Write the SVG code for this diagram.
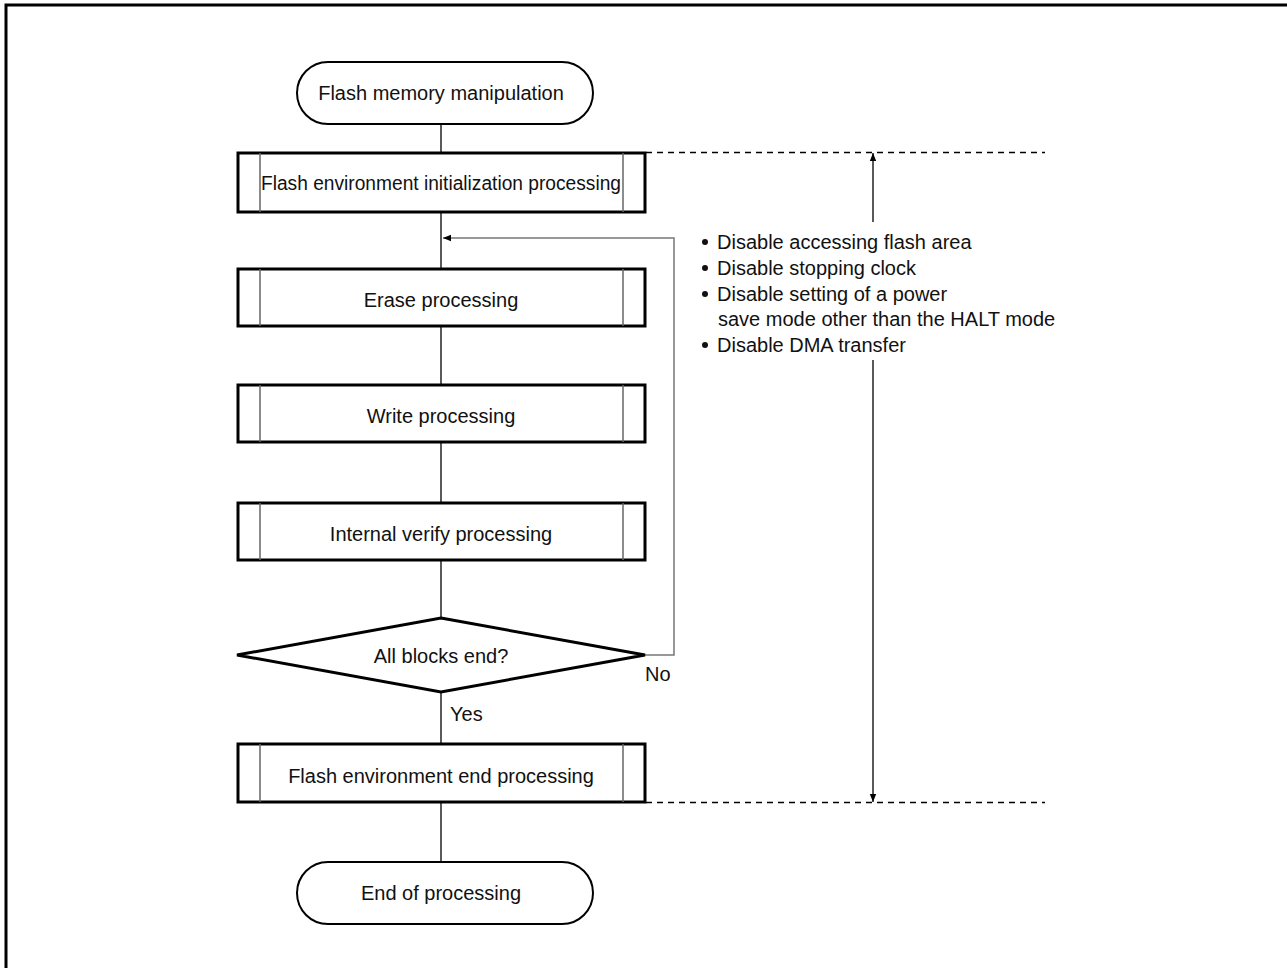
<svg xmlns="http://www.w3.org/2000/svg" width="1287" height="968" viewBox="0 0 1287 968">
<defs>
<style>
.t{font-family:"Liberation Sans",Arial,Helvetica,sans-serif;font-size:20px;fill:#111;}
.c{text-anchor:middle;}
.box{fill:#fff;stroke:#000;stroke-width:3;}
.inner{stroke:#666;stroke-width:1.5;fill:none;}
.term{fill:#fff;stroke:#000;stroke-width:2;}
.ln{stroke:#000;stroke-width:1.3;fill:none;}
.loop{stroke:#777;stroke-width:1.5;fill:none;}
.dash{stroke:#000;stroke-width:1.3;stroke-dasharray:6,5;fill:none;}
</style>
<marker id="ah" viewBox="0 0 10 10" refX="10" refY="5" markerWidth="13" markerHeight="8" markerUnits="userSpaceOnUse" orient="auto">
<path d="M0,1 L10,5 L0,9 z" fill="#000"/>
</marker>
</defs>
<rect width="1287" height="968" fill="#fff"/>
<path d="M6,968 V5 H1287" fill="none" stroke="#000" stroke-width="3"/>

<g id="connectors">
<line class="ln" x1="441" y1="124" x2="441" y2="153"/>
<line class="ln" x1="441" y1="212" x2="441" y2="269"/>
<line class="ln" x1="441" y1="326" x2="441" y2="385"/>
<line class="ln" x1="441" y1="442" x2="441" y2="503"/>
<line class="ln" x1="441" y1="560" x2="441" y2="618"/>
<line class="ln" x1="441" y1="692" x2="441" y2="744"/>
<line class="ln" x1="441" y1="802" x2="441" y2="862"/>
<path class="loop" d="M645,655 H674 V238 H443" marker-end="url(#ah)"/>
<line class="dash" x1="646" y1="152.5" x2="1045" y2="152.5"/>
<line class="dash" x1="646" y1="802.5" x2="1045" y2="802.5"/>
<line class="ln" x1="873" y1="222" x2="873" y2="153" marker-end="url(#ah)"/>
<line class="ln" x1="873" y1="360" x2="873" y2="802" marker-end="url(#ah)"/>
</g>

<g id="start">
<rect class="term" x="297" y="62" width="296" height="62" rx="31" ry="31"/>
<text class="t c" x="441" y="100">Flash memory manipulation</text>
</g>

<g id="init">
<rect class="box" x="238" y="153" width="407" height="59"/>
<line class="inner" x1="260" y1="153" x2="260" y2="212"/>
<line class="inner" x1="623" y1="153" x2="623" y2="212"/>
<text class="t c" x="441" y="190" textLength="360" lengthAdjust="spacingAndGlyphs">Flash environment initialization processing</text>
</g>

<g id="erase">
<rect class="box" x="238" y="269" width="407" height="57"/>
<line class="inner" x1="260" y1="269" x2="260" y2="326"/>
<line class="inner" x1="623" y1="269" x2="623" y2="326"/>
<text class="t c" x="441" y="307">Erase processing</text>
</g>

<g id="write">
<rect class="box" x="238" y="385" width="407" height="57"/>
<line class="inner" x1="260" y1="385" x2="260" y2="442"/>
<line class="inner" x1="623" y1="385" x2="623" y2="442"/>
<text class="t c" x="441" y="423">Write processing</text>
</g>

<g id="verify">
<rect class="box" x="238" y="503" width="407" height="57"/>
<line class="inner" x1="260" y1="503" x2="260" y2="560"/>
<line class="inner" x1="623" y1="503" x2="623" y2="560"/>
<text class="t c" x="441" y="541">Internal verify processing</text>
</g>

<g id="decision">
<polygon class="box" points="441,618 645,655 441,692 237,655" stroke-linejoin="miter"/>
<text class="t c" x="441" y="663">All blocks end?</text>
<text class="t" x="645" y="681">No</text>
<text class="t" x="450" y="721">Yes</text>
</g>

<g id="endproc">
<rect class="box" x="238" y="744" width="407" height="58"/>
<line class="inner" x1="260" y1="744" x2="260" y2="802"/>
<line class="inner" x1="623" y1="744" x2="623" y2="802"/>
<text class="t c" x="441" y="783">Flash environment end processing</text>
</g>

<g id="end">
<rect class="term" x="297" y="862" width="296" height="62" rx="31" ry="31"/>
<text class="t c" x="441" y="900">End of processing</text>
</g>

<g id="notes">
<circle cx="705" cy="242" r="3" fill="#111"/>
<text class="t" x="717" y="249">Disable accessing flash area</text>
<circle cx="705" cy="268" r="3" fill="#111"/>
<text class="t" x="717" y="275">Disable stopping clock</text>
<circle cx="705" cy="294" r="3" fill="#111"/>
<text class="t" x="717" y="301">Disable setting of a power</text>
<text class="t" x="718" y="326">save mode other than the HALT mode</text>
<circle cx="705" cy="345" r="3" fill="#111"/>
<text class="t" x="717" y="352">Disable DMA transfer</text>
</g>
</svg>
